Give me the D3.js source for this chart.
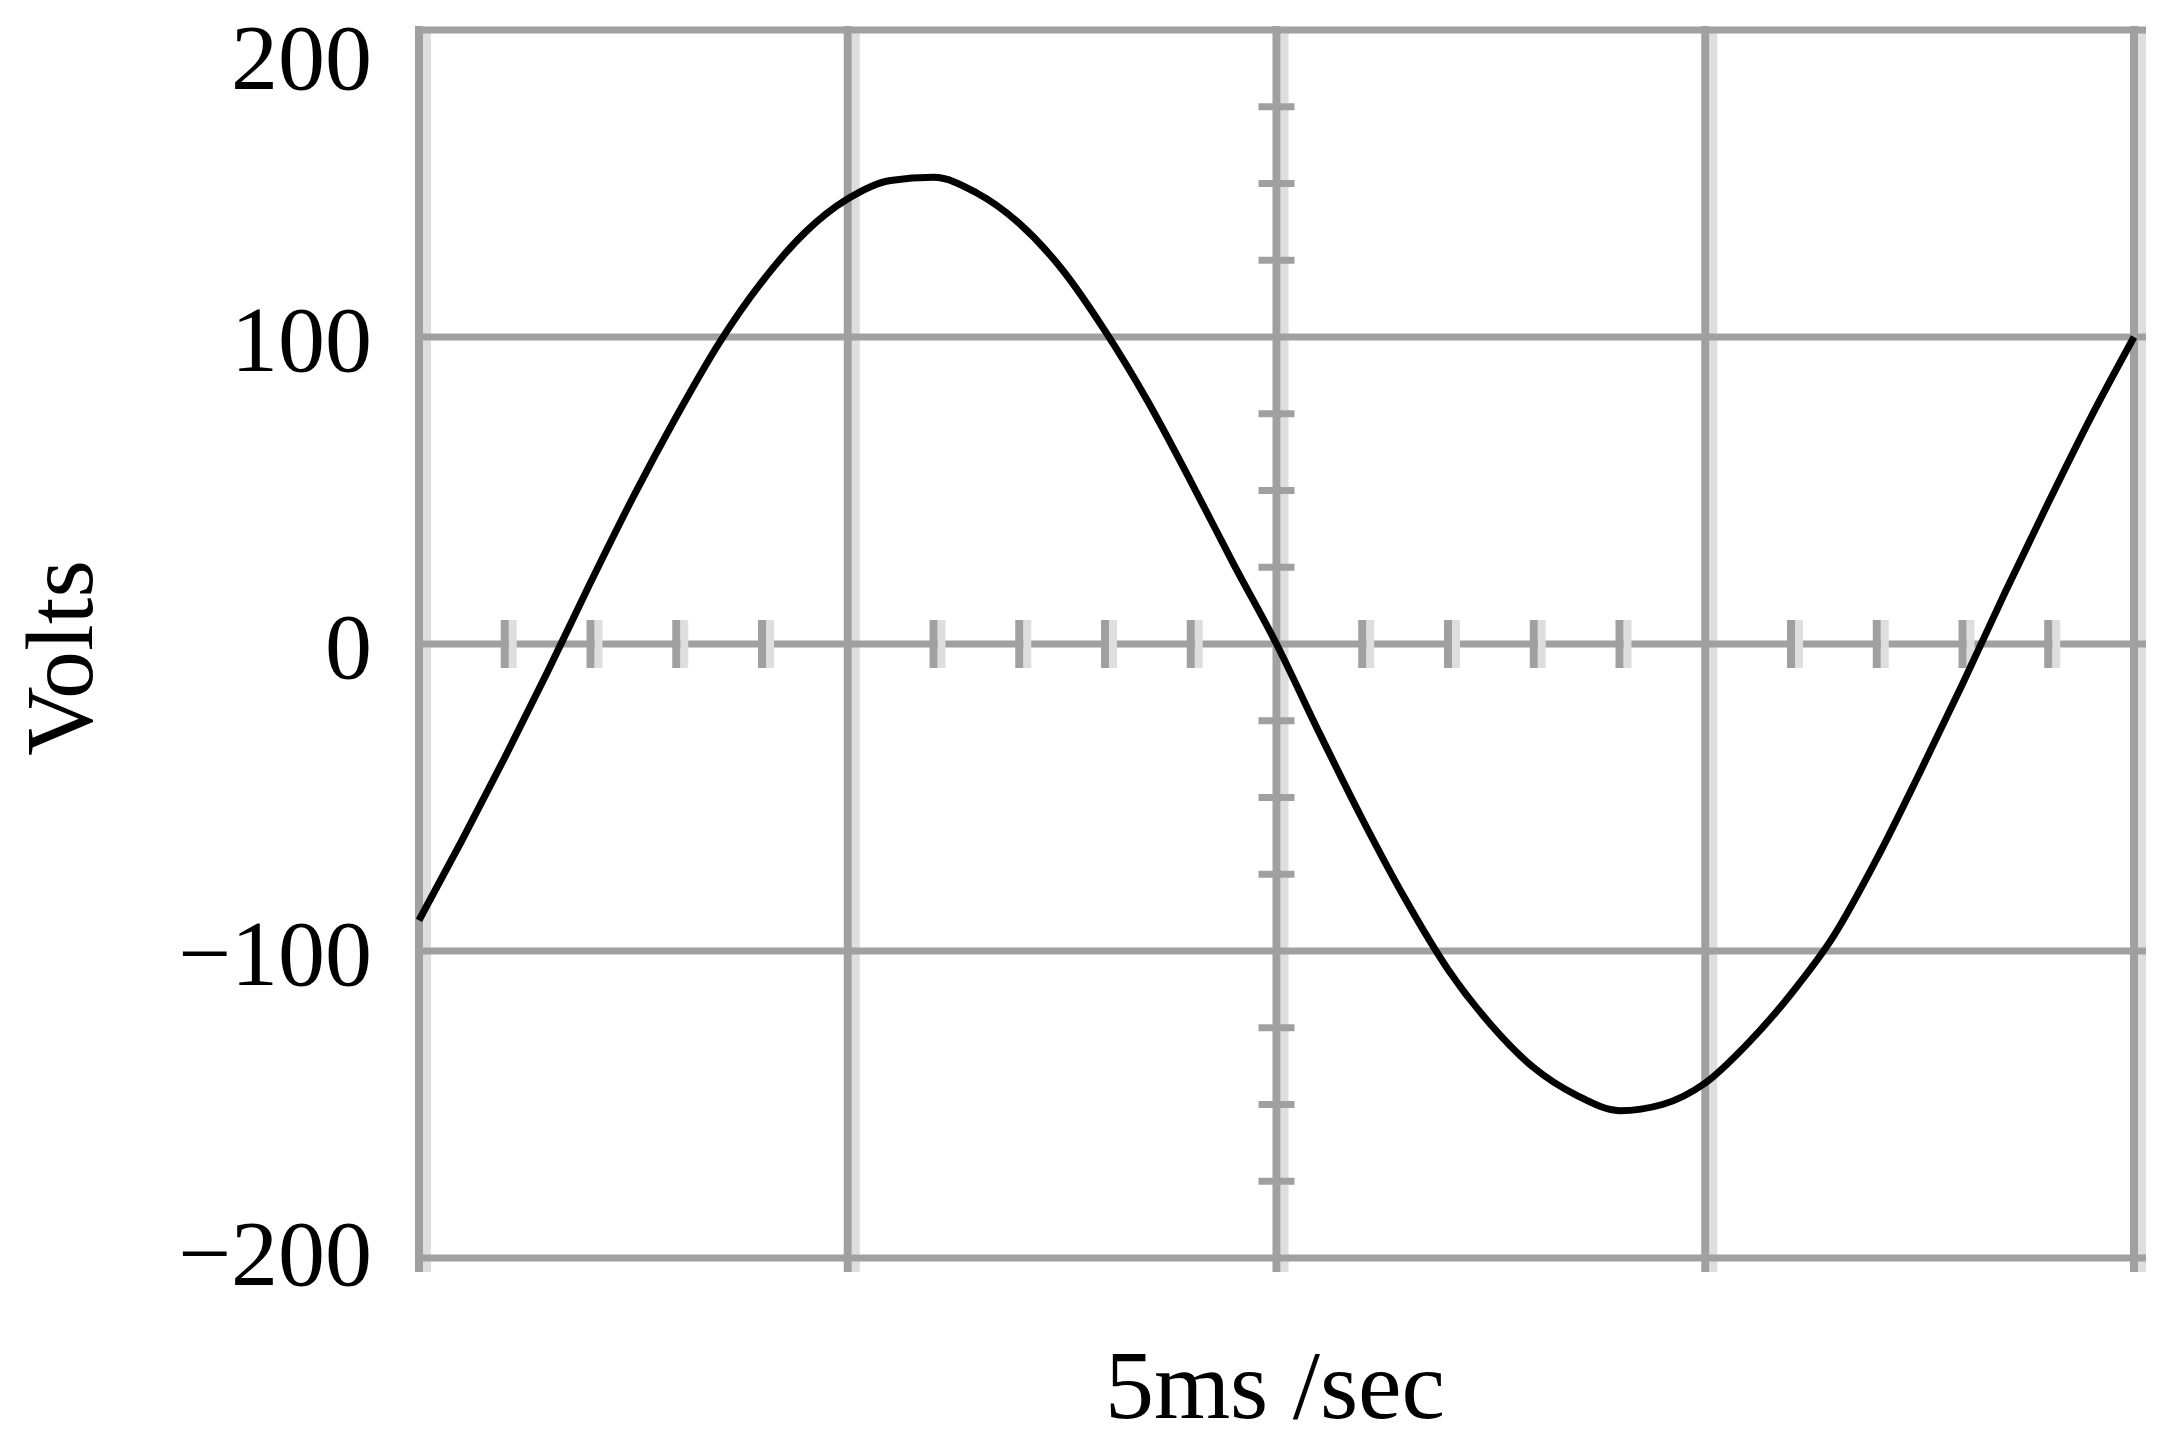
<!DOCTYPE html>
<html><head><meta charset="utf-8">
<script src="https://cdn.jsdelivr.net/npm/d3@7"></script>
<style>body{margin:0;background:#fff}</style></head>
<body><svg id="c" width="2162" height="1451"></svg>
<script>
const timeMs = [0,0.5,1,1.5,2,2.5,3,3.5,4,4.5,5,5.5,6,6.5,7,7.5,8,8.5,9,9.5,10,10.5,11,11.5,12,12.5,13,13.5,14,14.5,15,15.5,16,16.5,17,17.5,18,18.5,19,19.5,20];
const volts = [-90,-64,-37,-9,20,48,74,98,118,134,145,151,152,147,137,122,102,79,53,26,0,-29,-57,-83,-106,-124,-138,-147,-152,-150,-143,-130,-114,-95,-70,-42,-13,17,46,74,100];
const yTicks = [-200,-100,0,100,200];
const xMajor = [0,5,10,15,20];
const xMinor = [1,2,3,4,6,7,8,9,11,12,13,14,16,17,18,19];
const yMinor = [-175,-150,-125,-75,-50,-25,25,50,75,125,150,175];
const xLabel = "5ms /sec", yLabel = "Volts";

const svg = d3.select("#c");
const x = d3.scaleLinear().domain([0,20]).range([419,2134]);
const y = d3.scaleLinear().domain([-200,200]).range([1258,30]);
const dark="#a0a0a0", light="#dedede";
const g = svg.append("g");
xMajor.forEach(v=>{
  g.append("line").attr("x1",x(v)+8).attr("x2",x(v)+8).attr("y1",y(200)).attr("y2",y(-200)+14).attr("stroke",light).attr("stroke-width",8);
  g.append("line").attr("x1",x(v)).attr("x2",x(v)).attr("y1",y(200)-4).attr("y2",y(-200)+14).attr("stroke",dark).attr("stroke-width",8);
});
yTicks.forEach(v=>{
  g.append("line").attr("x1",x(0)-4).attr("x2",x(20)+12).attr("y1",y(v)).attr("y2",y(v)).attr("stroke",dark).attr("stroke-width",7);
});
xMinor.forEach(v=>{
  g.append("line").attr("x1",x(v)+8).attr("x2",x(v)+8).attr("y1",y(0)-24).attr("y2",y(0)+24).attr("stroke",light).attr("stroke-width",8);
  g.append("line").attr("x1",x(v)).attr("x2",x(v)).attr("y1",y(0)-24).attr("y2",y(0)+24).attr("stroke",dark).attr("stroke-width",8);
});
yMinor.forEach(v=>{
  g.append("line").attr("x1",x(10)-18).attr("x2",x(10)+18).attr("y1",y(v)).attr("y2",y(v)).attr("stroke",dark).attr("stroke-width",7);
});
const yAxis = d3.axisLeft(y).tickValues(yTicks).tickSize(0).tickPadding(0).tickFormat(d=>d<0?"\u2212"+Math.abs(d):d);
const ya = svg.append("g").attr("transform","translate(372,0)").call(yAxis);
ya.select(".domain").remove();
ya.selectAll("text").attr("font-family","Liberation Serif").attr("font-size",94).attr("fill","#000")
  .attr("dy",d=>d===200?"0.62em":(d===-200?"0.28em":"0.36em"));
svg.append("text").attr("transform","translate(92,658) rotate(-90)").attr("text-anchor","middle")
  .attr("font-family","Liberation Serif").attr("font-size",96).text(yLabel);
svg.append("text").attr("x",1275).attr("y",1418).attr("text-anchor","middle")
  .attr("font-family","Liberation Serif").attr("font-size",98).text(xLabel);
const line = d3.line().x((d,i)=>x(timeMs[i])).y(d=>y(d)).curve(d3.curveMonotoneX);
svg.append("path").attr("d",line(volts)).attr("fill","none").attr("stroke","#000").attr("stroke-width",7);
</script></body></html>
